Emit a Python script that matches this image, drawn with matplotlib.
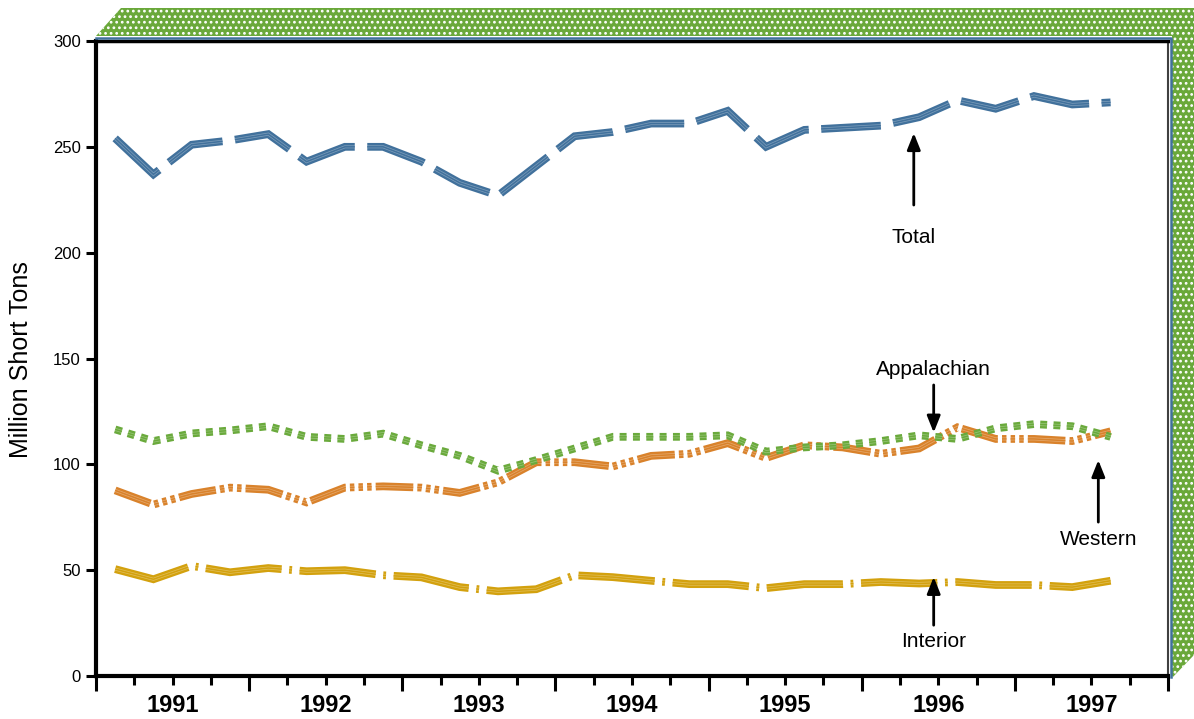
import matplotlib
matplotlib.use('Agg')
import matplotlib.pyplot as plt
from matplotlib.patches import Polygon
from matplotlib.lines import Line2D

plt.rcParams['font.family'] = ['Liberation Sans', 'DejaVu Sans']
plt.rcParams['lines.scale_dashes'] = False
plt.rcParams['hatch.linewidth'] = 1.2

# quarterly production, million short tons, 1991 Q1 .. 1997 Q3
start_year = 1991
year_labels = ['1991', '1992', '1993', '1994', '1995', '1996', '1997']
total = [254, 237, 251, 253, 256, 243, 250, 250, 243, 233, 227, 241, 255, 257,
         261, 261, 267, 250, 258, 259, 260, 264, 272, 268, 274, 270, 271]
appalachian = [116.5, 111, 114.6, 116, 118, 113, 112, 114.5, 109, 104, 97, 102, 107.5, 113,
               113, 113, 113.7, 106, 108, 109, 111, 113.7, 112, 117, 119, 118, 113]
western = [87.7, 81, 86, 89, 88, 82, 89, 89.6, 89, 86.5, 91.5, 101, 101, 99,
           104, 105, 110, 103, 109, 108, 105, 107.5, 117.5, 112, 112, 111, 115.6]
interior = [50.5, 45.7, 52, 49, 51, 49.5, 50, 47.6, 46.6, 42, 40, 41, 47.6, 46.7,
            45, 43.4, 43.4, 41.5, 43.4, 43.4, 44.4, 43.7, 44.4, 43, 43, 42, 45]

W, H = 1194, 719


def fx(x):
    return x / W


def fy(y):
    return 1 - y / H


def striped(ax, x, y, color, dashes, z):
    # thick dashed line with two faint light stripes inside
    for lw, c, a in [(5.6, color, 1.0), (2.2, 'white', 0.3), (1.1, color, 1.0)]:
        ax.plot(x, y, color=c, alpha=a, lw=lw, dashes=dashes,
                dash_capstyle='butt', dash_joinstyle='miter', zorder=z)


fig = plt.figure(figsize=(W / 100, H / 100), dpi=100)

# green 3-D border on top and right
band = Polygon([(fx(96), fy(36)), (fx(121), fy(8)), (fx(1194), fy(8)),
                (fx(1194), fy(655)), (fx(1172), fy(678)), (fx(1172), fy(36))],
               closed=True, transform=fig.transFigure, facecolor='#6aa83a',
               edgecolor='white', hatch='...', lw=0)
fig.add_artist(band)
fig.add_artist(Line2D([fx(96), fx(1170.5), fx(1170.5)], [fy(37.5), fy(37.5), fy(677)],
                      color='#41719c', lw=1.8, transform=fig.transFigure))

ax = fig.add_axes([fx(96), fy(676), (1168 - 96) / W, (676 - 41) / H])

x = [start_year + (i + 0.5) / 4 for i in range(len(total))]

striped(ax, x, interior, '#d3a10e', (55, 5.5, 2, 5.5), 2)
striped(ax, x, western, '#d9822b', (27, 3, 3.2, 3, 3.2, 3, 3.2, 3), 3)
striped(ax, x, appalachian, '#6aaa3c', (5, 4.6), 4)
striped(ax, x, total, '#41719c', (43, 9), 5)

ax.set_xlim(start_year, start_year + len(year_labels))
ax.set_ylim(0, 300)
ax.set_yticks(range(0, 301, 50))
ax.set_xticks(range(start_year, start_year + len(year_labels) + 1))
ax.set_xticks([start_year + q / 4 for q in range(len(year_labels) * 4 + 1)], minor=True)
ax.set_xticklabels([])

ax.tick_params(axis='y', direction='out', length=7, width=2.2, labelsize=12, pad=4)
ax.tick_params(axis='x', which='major', direction='out', length=11, width=2.2)
ax.tick_params(axis='x', which='minor', direction='out', length=6.5, width=2.2)

for s in ['left', 'bottom']:
    ax.spines[s].set_linewidth(3)
    ax.spines[s].set_color('black')
ax.spines['top'].set_linewidth(2.5)
ax.spines['top'].set_color('black')
ax.spines['right'].set_linewidth(1.5)
ax.spines['right'].set_color('#404040')

xtr = ax.get_xaxis_transform()
for i, lab in enumerate(year_labels):
    ax.text(start_year + i + 0.5, -0.046, lab, transform=xtr, ha='center', va='center',
            fontsize=17, fontweight='bold')

fig.text(fx(21), fy(360), 'Million Short Tons', rotation=90, ha='center', va='center',
         fontsize=18)

arrow = dict(arrowstyle='-|>,head_length=0.4,head_width=0.16', lw=2, color='black',
             shrinkA=0, shrinkB=0, mutation_scale=25)
notes = [('Total', 1996.34, 256.5, 222.5, 207),
         ('Appalachian', 1996.47, 115, 137.5, 145),
         ('Western', 1997.545, 102, 72.7, 64.7),
         ('Interior', 1996.47, 46.8, 24, 16.5)]
for name, nx, tip, tail, ty in notes:
    ax.annotate('', xy=(nx, tip), xytext=(nx, tail), arrowprops=arrow, zorder=6)
    ax.text(nx, ty, name, ha='center', va='center', fontsize=15, zorder=6)

fig.savefig('out.png', dpi=100)
